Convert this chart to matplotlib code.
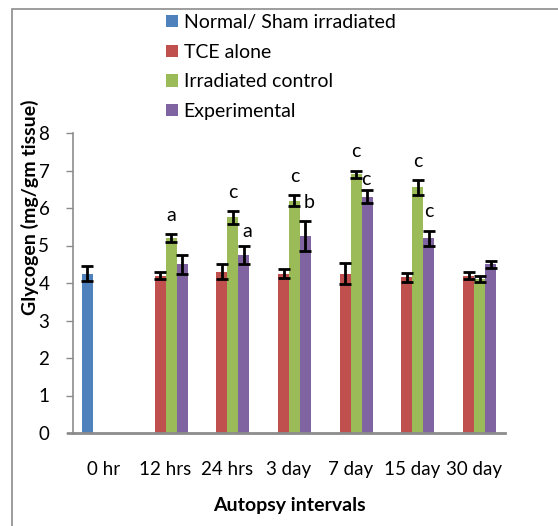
import numpy as np
import matplotlib
matplotlib.use('Agg')
import matplotlib.pyplot as plt
from matplotlib.patches import Rectangle

plt.rcParams['font.family'] = ['Lato', 'DejaVu Sans']

categories = ["0 hr", "12 hrs", "24 hrs", "3 day", "7 day", "15 day", "30 day"]
series_names = ["Normal/ Sham irradiated", "TCE alone", "Irradiated control", "Experimental"]
nan = np.nan
normal = [4.25, nan, nan, nan, nan, nan, nan]
normal_err = [0.2, nan, nan, nan, nan, nan, nan]
tce = [nan, 4.2, 4.3, 4.25, 4.25, 4.15, 4.2]
tce_err = [nan, 0.1, 0.2, 0.12, 0.28, 0.12, 0.1]
irradiated = [nan, 5.2, 5.75, 6.2, 6.9, 6.55, 4.1]
irradiated_err = [nan, 0.1, 0.17, 0.15, 0.1, 0.2, 0.08]
experimental = [nan, 4.5, 4.75, 5.25, 6.3, 5.2, 4.5]
experimental_err = [nan, 0.25, 0.25, 0.4, 0.17, 0.2, 0.1]
# (category, series, letter)
letters = [(1, 2, "a"), (2, 2, "c"), (2, 3, "a"), (3, 2, "c"), (3, 3, "b"),
           (4, 2, "c"), (4, 3, "c"), (5, 2, "c"), (5, 3, "c")]

colors = ["#4F81BD", "#C0504D", "#9BBB59", "#8064A2"]

fig = plt.figure(figsize=(5.58, 5.26), dpi=100)
W, H = 558, 526
fig.patches.append(Rectangle((12 / W, -0.1), 1.2, 1 - 9 / H + 0.1, transform=fig.transFigure,
                             fill=False, edgecolor="#8c8c8c", linewidth=1.2))

ax = fig.add_axes([73 / W, 1 - 433 / H, (505 - 73) / W, (433 - 133) / H])

values = [normal, tce, irradiated, experimental]
errors = [normal_err, tce_err, irradiated_err, experimental_err]
x = np.arange(len(categories))
w = 0.178
for i in range(4):
    off = (i - 1.5) * w
    ax.bar(x + off, values[i], w, color=colors[i], label=series_names[i])
    ax.errorbar(x + off, values[i], yerr=errors[i], fmt='none', ecolor='black',
                elinewidth=2.0, capsize=4.5, capthick=2.0)

label_dx = {(3, 3): 0.06, (2, 3): 0.05, (4, 3): -0.02}
label_dy = {(4, 3): -0.2, (2, 3): -0.12}
for c, s, t in letters:
    top = values[s][c] + errors[s][c]
    xx = c + (s - 1.5) * w + label_dx.get((c, s), 0)
    ax.text(xx, top + 0.5 + label_dy.get((c, s), 0), t, ha='center', va='center', fontsize=14)

ax.set_xlim(-0.5, len(categories) - 0.5)
ax.set_ylim(0, 8)
ax.set_yticks(range(0, 9))
ax.set_xticks(x)
ax.set_xticklabels(categories)
ax.tick_params(axis='x', length=0, pad=20, labelsize=13.5)
ax.tick_params(axis='y', length=5, width=1, color='#8c8c8c', labelsize=13.5, pad=12)
for side in ['top', 'right']:
    ax.spines[side].set_visible(False)
for side in ['left', 'bottom']:
    ax.spines[side].set_color('#8c8c8c')
    ax.spines[side].set_linewidth(1.2)
ax.spines['bottom'].set_linewidth(2)
ax.plot([-0.012, 0], [0, 0], transform=ax.transAxes, color='#8c8c8c', lw=2, clip_on=False)

fig.text(289 / W, 1 - 506 / H, "Autopsy intervals", ha='center', va='center',
         fontsize=14, fontweight='bold')
fig.text(30 / W, 1 - 207 / H, "Glycogen (mg/gm tissue)", ha='center', va='center',
         rotation=90, fontsize=14, fontweight='bold')

fig.legend(loc='upper left', bbox_to_anchor=(166 / W, 1 - 14 / H), frameon=False,
           handlelength=0.6, handleheight=0.6, handletextpad=0.3, labelspacing=0.65,
           fontsize=14, borderaxespad=0, borderpad=0)

fig.savefig("out.png", dpi=100)
